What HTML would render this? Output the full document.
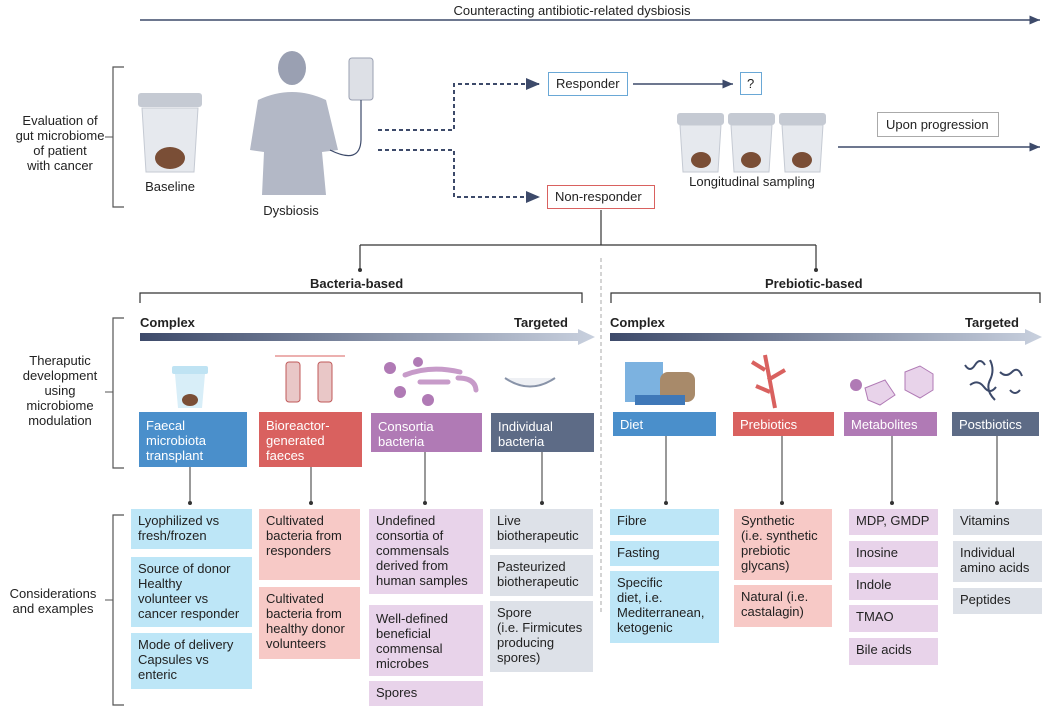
<!DOCTYPE html>
<html><head><meta charset="utf-8"><style>
body{margin:0;width:1057px;height:712px;background:#fff;position:relative;overflow:hidden;font-family:"Liberation Sans",sans-serif;color:#222}
.a{position:absolute}
.t{position:absolute;font-size:13px;line-height:15px}
.c{text-align:center}
.b{position:absolute;font-size:13px;line-height:15px;box-sizing:border-box;padding:4px 7px;white-space:nowrap}
.cat{color:#fff;padding:6px 7px}
.lb{background:#bde6f7}.pk{background:#f7c9c6}.lv{background:#e8d3ea}.gy{background:#dde1e8}
.bl{background:#4a8fcb}.rd{background:#d9615f}.pu{background:#b07ab5}.sl{background:#5d6b86}
</style></head><body>
<svg class="a" style="left:0;top:0" width="1057" height="712">
<defs>
<linearGradient id="g" x1="0" x2="1"><stop offset="0" stop-color="#3d4a6a"/><stop offset="1" stop-color="#c8d0de"/></linearGradient>
<marker id="ah" markerWidth="8" markerHeight="8" refX="7" refY="4" orient="auto"><path d="M0,1 L7,4 L0,7 z" fill="#3d4a6a"/></marker>
</defs>
<line x1="140" y1="20" x2="1040" y2="20" stroke="#3d4a6a" stroke-width="1.5" marker-end="url(#ah)"/>
<g fill="none" stroke="#555" stroke-width="1.2">
<path d="M124,67 H113 V207 H124"/><path d="M124,318 H113 V468 H124"/><path d="M124,515 H113 V705 H124"/>
</g>
<line x1="105" y1="137" x2="113" y2="137" stroke="#555"/>
<line x1="105" y1="392" x2="113" y2="392" stroke="#555"/>
<line x1="105" y1="600" x2="113" y2="600" stroke="#555"/>
<rect x="138" y="93" width="64" height="14" rx="3" fill="#c5cad3"/>
<path d="M142,108 H198 L194,172 H146 Z" fill="#e6e9ee" stroke="#c5cad3"/>
<ellipse cx="170" cy="158" rx="15" ry="11" fill="#7a4e36"/>
<ellipse cx="292" cy="68" rx="14" ry="17" fill="#9aa0b2"/>
<path d="M258,100 Q292,84 326,100 L338,150 L322,152 L326,195 H262 L264,152 L250,150 Z" fill="#b3b8c6"/>
<rect x="349" y="58" width="24" height="42" rx="3" fill="#dde0e6" stroke="#9aa0b2"/>
<path d="M361,100 V140 Q360,165 330,150" fill="none" stroke="#3d4a6a" stroke-width="1.2"/>
<g fill="none" stroke="#3d4a6a" stroke-width="2" stroke-dasharray="4,3">
<path d="M378,130 H454 V84 H540" marker-end="url(#ah)"/>
<path d="M378,150 H454 V197 H540" marker-end="url(#ah)"/>
</g>
<line x1="633" y1="84" x2="733" y2="84" stroke="#3d4a6a" stroke-width="1.5" marker-end="url(#ah)"/>
<line x1="838" y1="147" x2="1040" y2="147" stroke="#3d4a6a" stroke-width="1.5" marker-end="url(#ah)"/>
<g>
<rect x="677" y="113" width="47" height="12" rx="3" fill="#c5cad3"/><path d="M680,125 H721 L718,172 H683 Z" fill="#e6e9ee" stroke="#c5cad3"/><ellipse cx="701" cy="160" rx="10" ry="8" fill="#7a4e36"/>
<rect x="728" y="113" width="47" height="12" rx="3" fill="#c5cad3"/><path d="M731,125 H772 L769,172 H734 Z" fill="#e6e9ee" stroke="#c5cad3"/><ellipse cx="751" cy="160" rx="10" ry="8" fill="#7a4e36"/>
<rect x="779" y="113" width="47" height="12" rx="3" fill="#c5cad3"/><path d="M782,125 H823 L820,172 H785 Z" fill="#e6e9ee" stroke="#c5cad3"/><ellipse cx="802" cy="160" rx="10" ry="8" fill="#7a4e36"/>
</g>
<g stroke="#333" stroke-width="1.2" fill="none">
<path d="M601,210 V245"/><path d="M360,245 H816"/><path d="M360,245 V270"/><path d="M816,245 V270"/>
<path d="M140,303 V293 H582 V303"/><path d="M611,303 V293 H1040 V303"/>
</g>
<circle cx="360" cy="270" r="2" fill="#333"/><circle cx="816" cy="270" r="2" fill="#333"/>
<line x1="601" y1="258" x2="601" y2="615" stroke="#aaa" stroke-dasharray="4,3"/>
<path d="M140,333 H578 V329 L595,337 L578,345 V341 H140 Z" fill="url(#g)"/>
<path d="M610,333 H1025 V329 L1042,337 L1025,345 V341 H610 Z" fill="url(#g)"/>
<g stroke="#333" stroke-width="1">
<line x1="190" y1="467" x2="190" y2="503"/><line x1="311" y1="467" x2="311" y2="503"/>
<line x1="425" y1="452" x2="425" y2="503"/><line x1="542" y1="452" x2="542" y2="503"/>
<line x1="666" y1="436" x2="666" y2="503"/><line x1="782" y1="436" x2="782" y2="503"/>
<line x1="892" y1="436" x2="892" y2="503"/><line x1="997" y1="436" x2="997" y2="503"/>
</g>
<g fill="#333"><circle cx="190" cy="503" r="2"/><circle cx="311" cy="503" r="2"/><circle cx="425" cy="503" r="2"/><circle cx="542" cy="503" r="2"/><circle cx="666" cy="503" r="2"/><circle cx="782" cy="503" r="2"/><circle cx="892" cy="503" r="2"/><circle cx="997" cy="503" r="2"/></g>
<rect x="172" y="366" width="36" height="8" rx="2" fill="#bfe3f3"/><path d="M175,374 H205 L202,408 H178 Z" fill="#d8eef8"/><ellipse cx="190" cy="400" rx="8" ry="6" fill="#7a4e36"/>
<rect x="286" y="362" width="14" height="40" rx="3" fill="#e9c7c7" stroke="#c05a5a"/><rect x="318" y="362" width="14" height="40" rx="3" fill="#e9c7c7" stroke="#c05a5a"/>
<path d="M275,356 H345" stroke="#d9615f"/>
<g fill="#b07ab5"><circle cx="390" cy="368" r="6"/><circle cx="418" cy="362" r="5"/><circle cx="400" cy="392" r="6"/><circle cx="428" cy="400" r="6"/></g>
<path d="M405,375 Q430,365 460,372" stroke="#c79bc9" stroke-width="5" fill="none" stroke-linecap="round"/>
<path d="M420,382 H448" stroke="#c79bc9" stroke-width="5" stroke-linecap="round"/>
<path d="M458,378 Q475,378 476,390" stroke="#c79bc9" stroke-width="5" fill="none" stroke-linecap="round"/>
<path d="M505,378 Q530,395 555,378" stroke="#8893a8" stroke-width="2" fill="#eef0f4"/>
<rect x="625" y="362" width="38" height="40" fill="#5b9fd8" opacity=".8"/><rect x="660" y="372" width="35" height="30" rx="8" fill="#a88a6a"/><rect x="635" y="395" width="50" height="10" fill="#3f78b8"/>
<path d="M765,355 L775,408 M765,370 L752,362 M768,380 L785,370 M770,392 L756,386" stroke="#d9615f" stroke-width="4"/>
<circle cx="856" cy="385" r="6" fill="#b07ab5"/><path d="M865,388 L885,380 L895,395 L880,405 L868,400 Z" fill="#e8d3ea" stroke="#b07ab5"/><path d="M905,372 L920,366 L933,374 L933,390 L920,398 L905,390 Z" fill="#e8d3ea" stroke="#b07ab5"/>
<g stroke="#3d4a6a" stroke-width="2" fill="none"><path d="M965,365 q5,8 10,0 t10,0"/><path d="M990,360 q5,10 0,20 t5,20"/><path d="M970,385 q8,-6 14,2 t12,0"/><path d="M1000,372 q6,6 12,0 t10,4"/><path d="M1010,390 q5,6 10,0"/></g>
</svg>
<div class="t c" style="left:360px;top:3px;width:424px">Counteracting antibiotic-related dysbiosis</div>
<div class="t c" style="left:8px;top:113px;width:104px">Evaluation of<br>gut microbiome<br>of patient<br>with cancer</div>
<div class="t c" style="left:8px;top:353px;width:104px">Theraputic<br>development<br>using<br>microbiome<br>modulation</div>
<div class="t c" style="left:0px;top:586px;width:106px">Considerations<br>and examples</div>
<div class="t c" style="left:130px;top:179px;width:80px">Baseline</div>
<div class="t c" style="left:245px;top:203px;width:92px">Dysbiosis</div>
<div class="b" style="left:548px;top:72px;width:80px;height:24px;border:1px solid #6aa8d6;padding:3px 7px">Responder</div>
<div class="b" style="left:740px;top:72px;width:22px;height:23px;border:1px solid #6aa8d6;padding:3px 6px">?</div>
<div class="b" style="left:547px;top:185px;width:108px;height:24px;border:1px solid #d9615f;padding:3px 7px">Non-responder</div>
<div class="t c" style="left:670px;top:174px;width:164px">Longitudinal sampling</div>
<div class="b" style="left:877px;top:112px;width:122px;height:25px;border:1px solid #aaa;padding:4px 8px">Upon progression</div>
<div class="t" style="left:310px;top:276px;font-weight:bold">Bacteria-based</div>
<div class="t" style="left:765px;top:276px;font-weight:bold">Prebiotic-based</div>
<div class="t" style="left:140px;top:315px;font-weight:bold">Complex</div>
<div class="t" style="left:514px;top:315px;font-weight:bold">Targeted</div>
<div class="t" style="left:610px;top:315px;font-weight:bold">Complex</div>
<div class="t" style="left:965px;top:315px;font-weight:bold">Targeted</div>

<div class="b cat bl" style="left:139px;top:412px;width:108px;height:55px">Faecal<br>microbiota<br>transplant</div>
<div class="b cat rd" style="left:259px;top:412px;width:103px;height:55px">Bioreactor-<br>generated<br>faeces</div>
<div class="b cat pu" style="left:371px;top:413px;width:111px;height:39px">Consortia<br>bacteria</div>
<div class="b cat sl" style="left:491px;top:413px;width:103px;height:39px">Individual<br>bacteria</div>
<div class="b cat bl" style="left:613px;top:412px;width:103px;height:24px;padding:5px 7px">Diet</div>
<div class="b cat rd" style="left:733px;top:412px;width:101px;height:24px;padding:5px 7px">Prebiotics</div>
<div class="b cat pu" style="left:844px;top:412px;width:93px;height:24px;padding:5px 7px">Metabolites</div>
<div class="b cat sl" style="left:952px;top:412px;width:87px;height:24px;padding:5px 7px">Postbiotics</div>

<div class="b lb" style="left:131px;top:509px;width:121px;height:40px">Lyophilized vs<br>fresh/frozen</div>
<div class="b lb" style="left:131px;top:557px;width:121px;height:70px">Source of donor<br>Healthy<br>volunteer vs<br>cancer responder</div>
<div class="b lb" style="left:131px;top:633px;width:121px;height:56px">Mode of delivery<br>Capsules vs<br>enteric</div>
<div class="b pk" style="left:259px;top:509px;width:101px;height:71px">Cultivated<br>bacteria from<br>responders</div>
<div class="b pk" style="left:259px;top:587px;width:101px;height:72px">Cultivated<br>bacteria from<br>healthy donor<br>volunteers</div>
<div class="b lv" style="left:369px;top:509px;width:114px;height:85px">Undefined<br>consortia of<br>commensals<br>derived from<br>human samples</div>
<div class="b lv" style="left:369px;top:605px;width:114px;height:71px;padding-top:6px">Well-defined<br>beneficial<br>commensal<br>microbes</div>
<div class="b lv" style="left:369px;top:681px;width:114px;height:25px">Spores</div>
<div class="b gy" style="left:490px;top:509px;width:103px;height:40px">Live<br>biotherapeutic</div>
<div class="b gy" style="left:490px;top:555px;width:103px;height:41px">Pasteurized<br>biotherapeutic</div>
<div class="b gy" style="left:490px;top:601px;width:103px;height:71px">Spore<br>(i.e. Firmicutes<br>producing<br>spores)</div>

<div class="b lb" style="left:610px;top:509px;width:109px;height:26px">Fibre</div>
<div class="b lb" style="left:610px;top:541px;width:109px;height:25px">Fasting</div>
<div class="b lb" style="left:610px;top:571px;width:109px;height:72px">Specific<br>diet, i.e.<br>Mediterranean,<br>ketogenic</div>
<div class="b pk" style="left:734px;top:509px;width:98px;height:71px">Synthetic<br>(i.e. synthetic<br>prebiotic<br>glycans)</div>
<div class="b pk" style="left:734px;top:585px;width:98px;height:42px">Natural (i.e.<br>castalagin)</div>
<div class="b lv" style="left:849px;top:509px;width:89px;height:26px">MDP, GMDP</div>
<div class="b lv" style="left:849px;top:541px;width:89px;height:26px">Inosine</div>
<div class="b lv" style="left:849px;top:573px;width:89px;height:27px">Indole</div>
<div class="b lv" style="left:849px;top:605px;width:89px;height:27px">TMAO</div>
<div class="b lv" style="left:849px;top:638px;width:89px;height:27px">Bile acids</div>
<div class="b gy" style="left:953px;top:509px;width:89px;height:26px">Vitamins</div>
<div class="b gy" style="left:953px;top:541px;width:89px;height:41px">Individual<br>amino acids</div>
<div class="b gy" style="left:953px;top:588px;width:89px;height:26px">Peptides</div>
</body></html>
